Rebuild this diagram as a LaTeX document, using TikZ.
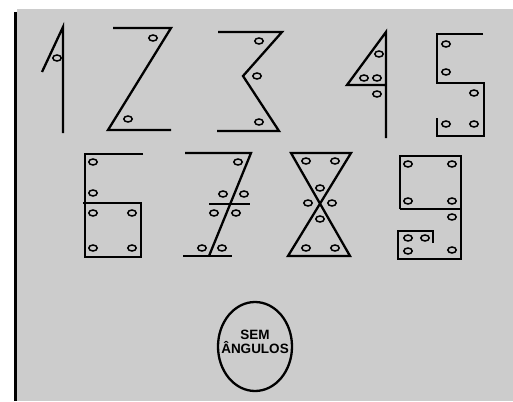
\documentclass[tikz,border=0pt]{standalone}
\usepackage{fontspec}
\setmainfont{Liberation Sans}
\usetikzlibrary{shapes.geometric}
\definecolor{bggray}{HTML}{CCCCCC}
\begin{document}
\begin{tikzpicture}[x=1pt,y=-1pt,
  stroke/.style={line width=2.3pt,line join=miter},
  ang/.style={line width=1.5pt,x radius=4.2pt,y radius=3pt},
  label/.style={font=\fontsize{13.5}{14.5}\selectfont\bfseries,align=center,inner sep=0pt}]
\useasboundingbox (0,0) rectangle (513,401);
\fill[bggray] (17,9) rectangle (513,401);
\draw[line width=2.3pt] (15.5,12) -- (15.5,401);
% 1
\draw[stroke] (63,133) -- (63,27) -- (42,72);
\draw[ang] (57,58) circle;
% 2
\draw[stroke] (113,28) -- (171,28) -- (108,130) -- (171,130);
\foreach \p in {(153,38),(128,119)} \draw[ang] \p circle;
% 3
\draw[stroke] (218,32) -- (282,32) -- (243,76) -- (279,131) -- (217,131);
\foreach \p in {(259,41),(257,76),(259,122)} \draw[ang] \p circle;
% 4
\draw[stroke] (386,138) -- (386,32) -- (347,85) -- (386,85);
\foreach \p in {(379,54),(364,78),(377,78),(377,94)} \draw[ang] \p circle;
% 5
\draw[stroke] (483,34) -- (437,34) -- (437,83) -- (484,83) -- (484,136) -- (437,136) -- (437,118);
\foreach \p in {(446,44),(446,72),(474,93),(446,124),(474,124)} \draw[ang] \p circle;
% 6
\draw[stroke] (143,154) -- (85,154) -- (85,257) -- (141,257) -- (141,203) -- (83,203);
\foreach \p in {(93,162),(93,193),(93,213),(132,213),(93,248),(132,248)} \draw[ang] \p circle;
% 7
\draw[stroke] (185,153) -- (251,153) -- (209,256);
\draw[stroke] (209,204) -- (250,204);
\draw[stroke] (183,256) -- (232,256);
\foreach \p in {(238,162),(223,194),(244,194),(214,213),(236,213),(202,248),(222,248)} \draw[ang] \p circle;
% 8
\draw[stroke] (291,153) -- (351,153) -- (288,256) -- (350,256) -- cycle;
\foreach \p in {(306,161),(335,161),(320,188),(308,203),(332,203),(320,219),(306,248),(335,248)} \draw[ang] \p circle;
% 9
\draw[stroke] (400,209) -- (400,156) -- (461,156) -- (461,259) -- (398,259) -- (398,231) -- (433,231) -- (433,243);
\draw[stroke] (400,209) -- (461,209);
\foreach \p in {(408,164),(452,164),(408,201),(452,201),(452,217),(408,238),(425,238),(408,251),(452,250)} \draw[ang] \p circle;
% ellipse
\draw[stroke] (255,346.5) ellipse [x radius=37,y radius=44.5];
\node[label] (sem) at (255,342) {SEM\\ÂNGULOS};
\end{tikzpicture}
\end{document}
